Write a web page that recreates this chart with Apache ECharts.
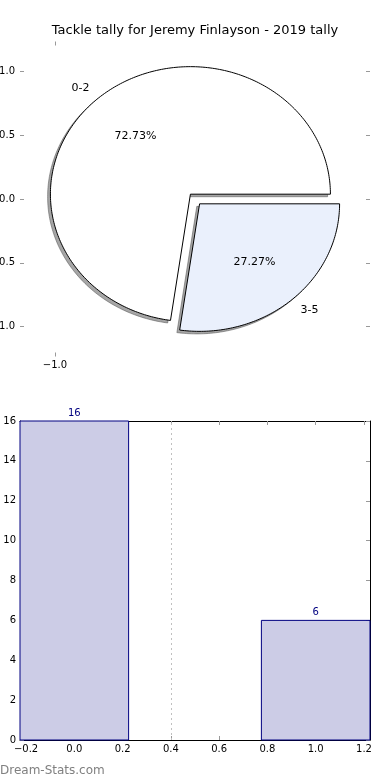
<!DOCTYPE html>
<html>
<head>
<meta charset="utf-8">
<script src="https://cdn.jsdelivr.net/npm/echarts@6/dist/echarts.min.js"></script>
<style>
  html, body { margin: 0; padding: 0; background: #ffffff; }
  #chart { width: 390px; height: 780px; }
</style>
</head>
<body>
<div id="chart"></div>
<script>
// ---- data ----
const titleText = 'Tackle tally for Jeremy Finlayson - 2019 tally';
const categories = ['0-2', '3-5'];
const counts = [16, 6];
const barPositions = [0, 1];
const pieYTicks = [-1, -0.5, 0, 0.5, 1];
const pieXTicks = [-1];
const barXTicks = [-0.2, 0, 0.2, 0.4, 0.6, 0.8, 1.0, 1.2];
const refLineX = [0.4];
const watermark = 'Dream-Stats.com';

// ---- style constants ----
const FONT = 'DejaVu Sans';
const pieColors = ['#ffffff', '#eaf0fc'];
const EXPLODE = 0.05;
const LABEL_DIST = 1.1;
const PCT_DIST = 0.6;
const SHADOW_OFF = 0.02;
const BAR_WIDTH = 0.45;
const BAR_FILL = '#ccccE6';
const BAR_EDGE = '#000080';
const TICK_COLOR = '#999999';

function fmt(v) {
  const s = Math.abs(v).toFixed(1);
  return v < 0 ? '\u2212' + s : s;
}

const total = counts.reduce((a, b) => a + b, 0);
function wedgeGeom(i) {
  let start = 0;
  for (let k = 0; k < i; k++) start += counts[k] / total * 360;
  const end = start + counts[i] / total * 360;
  const mid = (start + end) / 2 * Math.PI / 180;
  return {
    start, end, mid,
    cx: EXPLODE * Math.cos(mid),
    cy: EXPLODE * Math.sin(mid),
    frac: counts[i] / total
  };
}
function wedgePoints(api, g, dx, dy) {
  const pts = [api.coord([g.cx + dx, g.cy + dy])];
  const n = Math.max(4, Math.ceil(g.end - g.start));
  for (let s = 0; s <= n; s++) {
    const a = (g.start + (g.end - g.start) * s / n) * Math.PI / 180;
    pts.push(api.coord([g.cx + dx + Math.cos(a), g.cy + dy + Math.sin(a)]));
  }
  return pts;
}

const chart = echarts.init(document.getElementById('chart'), null, { renderer: 'canvas' });

const hiddenLine = { show: false, onZero: false };
const frameLine = { show: true, onZero: false, lineStyle: { color: '#000', width: 1 } };
const innerTick = { show: true, inside: true, length: 4, lineStyle: { color: TICK_COLOR, width: 1 } };

const option = {
  animation: false,
  backgroundColor: '#ffffff',
  title: [
    { text: titleText, left: 'center', top: 19,
      textStyle: { fontFamily: FONT, fontSize: 13, fontWeight: 'normal', color: '#000' } },
    { text: watermark, left: 0, top: 765, padding: 0,
      textStyle: { fontFamily: FONT, fontSize: 12, fontWeight: 'normal', color: '#808080' } }
  ],
  grid: [
    { left: 20, top: 41.5, width: 350, height: 315, containLabel: false, outerBoundsMode: 'none' },
    { left: 20, top: 421, width: 350, height: 319, containLabel: false, outerBoundsMode: 'none' }
  ],
  xAxis: [
    { gridIndex: 0, type: 'value', min: -1.25, max: 1.25, position: 'bottom',
      axisLine: hiddenLine, splitLine: { show: false },
      axisTick: Object.assign({ customValues: pieXTicks }, innerTick),
      axisLabel: { customValues: pieXTicks, formatter: fmt, fontFamily: FONT, fontSize: 10, color: '#000', margin: 4 } },
    { gridIndex: 0, type: 'value', min: -1.25, max: 1.25, position: 'top',
      axisLine: hiddenLine, splitLine: { show: false },
      axisTick: Object.assign({ customValues: pieXTicks }, innerTick),
      axisLabel: { show: false } },
    { gridIndex: 1, type: 'value', min: -0.225, max: 1.225, position: 'bottom',
      axisLine: frameLine, splitLine: { show: false },
      axisTick: Object.assign({ customValues: barXTicks }, innerTick),
      axisLabel: { customValues: barXTicks, formatter: fmt, fontFamily: FONT, fontSize: 10, color: '#000', margin: 4 } },
    { gridIndex: 1, type: 'value', min: -0.225, max: 1.225, position: 'top',
      axisLine: frameLine, splitLine: { show: false },
      axisTick: Object.assign({ customValues: barXTicks }, innerTick),
      axisLabel: { show: false } }
  ],
  yAxis: [
    { gridIndex: 0, type: 'value', min: -1.235, max: 1.235, position: 'left',
      axisLine: hiddenLine, splitLine: { show: false },
      axisTick: Object.assign({ customValues: pieYTicks }, innerTick),
      axisLabel: { customValues: pieYTicks, formatter: fmt, fontFamily: FONT, fontSize: 10, color: '#000', margin: 5 } },
    { gridIndex: 0, type: 'value', min: -1.235, max: 1.235, position: 'right',
      axisLine: hiddenLine, splitLine: { show: false },
      axisTick: Object.assign({ customValues: pieYTicks }, innerTick),
      axisLabel: { show: false } },
    { gridIndex: 1, type: 'value', min: 0, max: 16, interval: 2, position: 'left',
      axisLine: frameLine, splitLine: { show: false },
      axisTick: innerTick,
      axisLabel: { fontFamily: FONT, fontSize: 10, color: '#000', margin: 4 } },
    { gridIndex: 1, type: 'value', min: 0, max: 16, interval: 2, position: 'right',
      axisLine: frameLine, splitLine: { show: false },
      axisTick: innerTick,
      axisLabel: { show: false } }
  ],
  series: [
    // pie shadows
    {
      type: 'custom', xAxisIndex: 0, yAxisIndex: 0, z: 1, silent: true,
      data: categories.map((c, i) => [i]),
      renderItem: function (params, api) {
        const g = wedgeGeom(params.dataIndex);
        return {
          type: 'polygon',
          shape: { points: wedgePoints(api, g, -SHADOW_OFF, -SHADOW_OFF) },
          style: { fill: 'rgba(77,77,77,0.5)', stroke: 'rgba(77,77,77,0.5)', lineWidth: 1 }
        };
      }
    },
    // pie wedges with labels
    {
      type: 'custom', xAxisIndex: 0, yAxisIndex: 0, z: 2, silent: true,
      data: categories.map((c, i) => [i]),
      renderItem: function (params, api) {
        const i = params.dataIndex;
        const g = wedgeGeom(i);
        const lx = g.cx + LABEL_DIST * Math.cos(g.mid);
        const ly = g.cy + LABEL_DIST * Math.sin(g.mid);
        const lp = api.coord([lx, ly]);
        const pp = api.coord([g.cx + PCT_DIST * Math.cos(g.mid), g.cy + PCT_DIST * Math.sin(g.mid)]);
        return {
          type: 'group',
          children: [
            { type: 'polygon', shape: { points: wedgePoints(api, g, 0, 0) },
              style: { fill: pieColors[i], stroke: '#000', lineWidth: 1 } },
            { type: 'text', style: { text: categories[i], x: lp[0], y: lp[1],
                align: lx < 0 ? 'right' : 'left', verticalAlign: 'middle',
                fontFamily: FONT, fontSize: 11, fill: '#000' } },
            { type: 'text', style: { text: (g.frac * 100).toFixed(2) + '%', x: pp[0], y: pp[1],
                align: 'center', verticalAlign: 'middle',
                fontFamily: FONT, fontSize: 11, fill: '#000' } }
          ]
        };
      }
    },
    // bars
    {
      type: 'custom', xAxisIndex: 2, yAxisIndex: 2, z: 2, silent: true,
      data: barPositions.map((x, i) => [x, counts[i]]),
      renderItem: function (params, api) {
        const x = api.value(0), v = api.value(1);
        const p0 = api.coord([x - BAR_WIDTH / 2, v]);
        const p1 = api.coord([x + BAR_WIDTH / 2, 0]);
        const tp = api.coord([x, v]);
        return {
          type: 'group',
          children: [
            { type: 'rect', shape: { x: p0[0], y: p0[1], width: p1[0] - p0[0], height: p1[1] - p0[1] },
              style: { fill: BAR_FILL, stroke: BAR_EDGE, lineWidth: 1 } },
            { type: 'text', style: { text: String(v), x: tp[0], y: tp[1] - 3,
                align: 'center', verticalAlign: 'bottom',
                fontFamily: FONT, fontSize: 10, fill: BAR_EDGE } }
          ]
        };
      },
      markLine: {
        silent: true, symbol: 'none', animation: false,
        label: { show: false },
        lineStyle: { type: [2, 3], color: '#c0c0c0', width: 1 },
        data: refLineX.map(x => ({ xAxis: x }))
      }
    }
  ]
};
chart.setOption(option);
</script>
</body>
</html>
